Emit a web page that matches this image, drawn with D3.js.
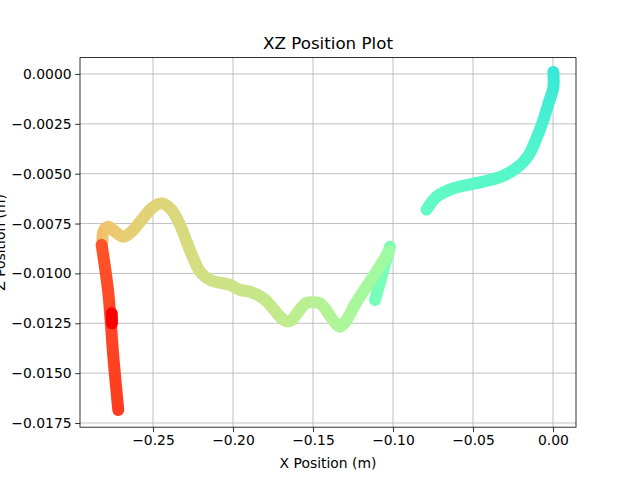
<!DOCTYPE html>
<html>
<head>
<meta charset="utf-8">
<script src="https://cdn.jsdelivr.net/npm/d3@7"></script>
<style>
  body { margin: 0; background: #fff; }
  text { font-family: "DejaVu Sans", sans-serif; }
</style>
</head>
<body>
<div id="chart"></div>
<script>
// trajectory, in metres; colour value is the position in the rainbow map
const pathX = [
  0.0002, 0.0002, -0.0025, -0.0060, -0.0102, -0.0154, -0.0217, -0.0310, -0.0436, -0.0540, -0.0644, -0.0727, -0.0790,
  -0.1112, -0.1019,
  -0.1025, -0.1123, -0.1227, -0.1300, -0.1331, -0.1365, -0.1404, -0.1456, -0.1508, -0.1545, -0.1590, -0.1630,
  -0.1665, -0.1700, -0.1740, -0.1810, -0.1894, -0.1956, -0.2019, -0.2144, -0.2206, -0.2248, -0.2290, -0.2331,
  -0.2383, -0.2446, -0.2508, -0.2571, -0.2633, -0.2685, -0.2738, -0.2779, -0.2810, -0.2815,
  -0.2821, -0.2779, -0.2748, -0.2717,
  -0.2758, -0.2756
];
const pathZ = [
  0.0001, -0.0007, -0.0014, -0.0023, -0.0032, -0.0041, -0.00465, -0.0051, -0.0054, -0.00557, -0.0058, -0.00615, -0.0068,
  -0.01133, -0.00866,
  -0.0089, -0.01016, -0.01142, -0.01245, -0.01267, -0.01245, -0.0120, -0.0115, -0.01145, -0.0115, -0.0119, -0.01232,
  -0.0124, -0.01222, -0.01185, -0.01125, -0.01092, -0.01083, -0.01058, -0.01033, -0.00991, -0.00924, -0.0084, -0.00757,
  -0.00682, -0.00648, -0.00673, -0.00732, -0.0079, -0.00816, -0.0079, -0.00766, -0.0079, -0.0084,
  -0.00857, -0.0110, -0.01418, -0.01685,
  -0.0120, -0.0125
];
const pathC = [
  0.36, 0.37, 0.38, 0.39, 0.40, 0.41, 0.415, 0.42, 0.425, 0.43, 0.435, 0.44, 0.445,
  0.48, 0.50,
  0.56, 0.57, 0.58, 0.585, 0.59, 0.595, 0.60, 0.605, 0.61, 0.613, 0.617, 0.62,
  0.625, 0.628, 0.632, 0.636, 0.64, 0.645, 0.65, 0.655, 0.66, 0.665, 0.67, 0.675,
  0.68, 0.685, 0.69, 0.695, 0.70, 0.705, 0.71, 0.715, 0.72, 0.73,
  0.895, 0.905, 0.915, 0.925,
  1.0, 1.0
];
// index where the pen lifts (a new stroke starts)
const strokeStarts = [0, 13, 15, 49, 53];

const xTicks = [-0.25, -0.20, -0.15, -0.10, -0.05, 0.00];
const yTicks = [0.0000, -0.0025, -0.0050, -0.0075, -0.0100, -0.0125, -0.0150, -0.0175];

const width = 640, height = 480;
const margin = {top: 57.6, right: 64, bottom: 52.8, left: 80};
const iw = width - margin.left - margin.right,
      ih = height - margin.top - margin.bottom;

// matplotlib "rainbow" colormap
function rainbow(t) {
  const cl = v => Math.max(0, Math.min(1, v));
  const r = cl(Math.abs(2 * t - 0.5)), g = cl(Math.sin(Math.PI * t)), b = cl(Math.cos(Math.PI * t / 2));
  return d3.rgb(r * 255, g * 255, b * 255).toString();
}

const svg = d3.select("#chart").append("svg")
  .attr("width", width).attr("height", height);
const defs = svg.append("defs");

const g = svg.append("g")
  .attr("transform", "translate(" + margin.left + "," + margin.top + ")");

const x = d3.scaleLinear().domain([-0.295625, 0.014375]).range([0, iw]);
const y = d3.scaleLinear().domain([-0.01771, 0.00082]).range([ih, 0]);

const minus = s => s.replace("-", "\u2212");

// grid
g.selectAll(".gx").data(xTicks).enter().append("line")
  .attr("x1", d => x(d)).attr("x2", d => x(d)).attr("y1", 0).attr("y2", ih)
  .attr("stroke", "#b0b0b0").attr("stroke-width", 0.8);
g.selectAll(".gy").data(yTicks).enter().append("line")
  .attr("y1", d => y(d)).attr("y2", d => y(d)).attr("x1", 0).attr("x2", iw)
  .attr("stroke", "#b0b0b0").attr("stroke-width", 0.8);

// split into strokes
const pts = pathX.map((v, i) => ({x: v, z: pathZ[i], c: pathC[i]}));
const strokes = strokeStarts.map((s, k) => pts.slice(s, k + 1 < strokeStarts.length ? strokeStarts[k + 1] : pts.length));

const line = d3.line().x(d => x(d.x)).y(d => y(d.z)).curve(d3.curveCatmullRom.alpha(0.5));

strokes.forEach((st, k) => {
  const a = st[0], b = st[st.length - 1];
  const ax = x(a.x), ay = y(a.z), bx = x(b.x), by = y(b.z);
  const dx = bx - ax, dy = by - ay, L2 = dx * dx + dy * dy || 1;
  // gradient lives in the path's own (translated) user space
  const grad = defs.append("linearGradient").attr("id", "grad" + k)
    .attr("gradientUnits", "userSpaceOnUse")
    .attr("x1", ax).attr("y1", ay)
    .attr("x2", bx).attr("y2", by);
  const stops = st.map(p => ({
    o: Math.max(0, Math.min(1, ((x(p.x) - ax) * dx + (y(p.z) - ay) * dy) / L2)),
    c: rainbow(p.c)
  })).sort((m, n) => m.o - n.o);
  grad.selectAll("stop").data(stops).enter().append("stop")
    .attr("offset", d => d.o).attr("stop-color", d => d.c);
  g.append("path")
    .datum(st)
    .attr("d", line)
    .attr("fill", "none")
    .attr("stroke", "url(#grad" + k + ")")
    .attr("stroke-width", 12)
    .attr("stroke-linecap", "round")
    .attr("stroke-linejoin", "round");
});

// axes
const xAxis = g.append("g").attr("transform", "translate(0," + ih + ")")
  .call(d3.axisBottom(x).tickValues(xTicks).tickFormat(d => minus(d3.format(".2f")(d))).tickSize(4.9).tickPadding(3.5));
const yAxis = g.append("g")
  .call(d3.axisLeft(y).tickValues(yTicks).tickFormat(d => minus(d3.format(".4f")(d))).tickSize(4.9).tickPadding(3.5));
[xAxis, yAxis].forEach(a => {
  a.select(".domain").remove();
  a.selectAll("line").attr("stroke", "#000").attr("stroke-width", 0.8);
  a.selectAll("text").attr("font-size", "13.9px").attr("fill", "#000")
    .attr("font-family", "DejaVu Sans, sans-serif");
});

g.append("rect").attr("width", iw).attr("height", ih)
  .attr("fill", "none").attr("stroke", "#000").attr("stroke-width", 0.8);

svg.append("text").attr("x", margin.left + iw / 2).attr("y", 49)
  .attr("text-anchor", "middle").attr("font-size", "16.7px").text("XZ Position Plot");
svg.append("text").attr("x", margin.left + iw / 2).attr("y", 468)
  .attr("text-anchor", "middle").attr("font-size", "13.9px").text("X Position (m)");
svg.append("text").attr("transform", "translate(5," + (margin.top + ih / 2) + ") rotate(-90)")
  .attr("text-anchor", "middle").attr("font-size", "13.9px").text("Z Position (m)");
</script>
</body>
</html>
